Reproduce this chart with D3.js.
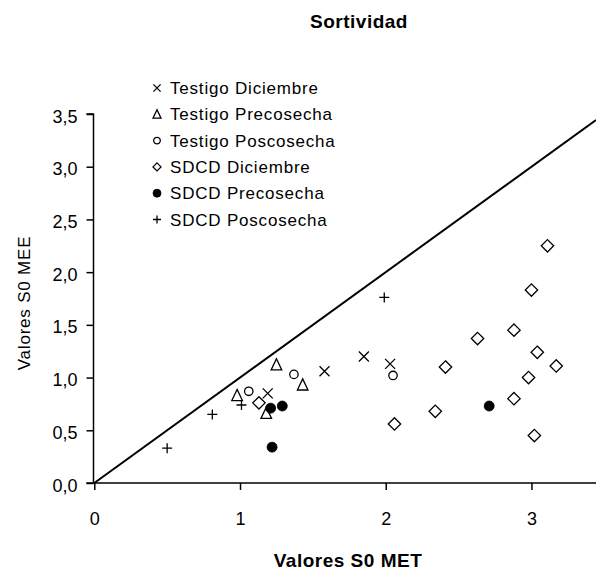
<!DOCTYPE html>
<html>
<head>
<meta charset="utf-8">
<script src="https://cdn.jsdelivr.net/npm/d3@7"></script>
<style>
  html, body { margin: 0; padding: 0; background: #fff; }
  svg { display: block; }
  text { font-family: "Liberation Sans", Arial, sans-serif; fill: #000; }
</style>
</head>
<body>
<svg id="chart" width="596" height="572"></svg>
<script>
// ---- Data ----
const chartTitle = "Sortividad";
const xTitle = "Valores S0 MET";
const yTitle = "Valores S0 MEE";
const seriesNames = ["Testigo Diciembre", "Testigo Precosecha", "Testigo Poscosecha",
                     "SDCD Diciembre", "SDCD Precosecha", "SDCD Poscosecha"];
const xTicks = [0, 1, 2, 3];
const yTicks = [0, 0.5, 1.0, 1.5, 2.0, 2.5, 3.0, 3.5];

const testigoDiciembre = [[1.19, 0.85], [1.58, 1.06], [1.85, 1.20], [2.03, 1.13]];
const testigoPrecosecha = [[0.98, 0.83], [1.18, 0.66], [1.25, 1.12], [1.43, 0.93]];
const testigoPoscosecha = [[1.06, 0.87], [1.37, 1.03], [2.05, 1.02]];
const sdcdDiciembre = [[1.13, 0.76], [2.06, 0.56], [2.34, 0.68], [2.41, 1.10], [2.63, 1.37],
                       [2.88, 1.45], [2.88, 0.80], [2.98, 1.00], [3.00, 1.83], [3.02, 0.45],
                       [3.04, 1.24], [3.11, 2.25], [3.17, 1.11]];
const sdcdPrecosecha = [[1.21, 0.71], [1.29, 0.73], [1.22, 0.34], [2.71, 0.73]];
const sdcdPoscosecha = [[0.50, 0.33], [0.81, 0.65], [1.01, 0.74], [1.99, 1.76]];
const identityLine = [[0, 0], [3.443, 3.443]];

const seriesData = [testigoDiciembre, testigoPrecosecha, testigoPoscosecha,
                    sdcdDiciembre, sdcdPrecosecha, sdcdPoscosecha];
const seriesShapes = ["times", "triangle", "circle", "diamond", "dot", "plus"];

// ---- Layout ----
const svg = d3.select("#chart");
const x = d3.scaleLinear().domain([0, 3.443]).range([94.3, 596]);
const y = d3.scaleLinear().domain([0, 3.5]).range([483, 114]);

function shapePath(shape, s) {
  switch (shape) {
    case "times": return `M${-s},${-s}L${s},${s}M${-s},${s}L${s},${-s}`;
    case "plus": return `M${-s},0L${s},0M0,${-s}L0,${s}`;
    case "triangle": return `M0,${-s*1.15}L${s},${s*0.95}L${-s},${s*0.95}Z`;
    case "diamond": return `M0,${-s}L${s},0L0,${s}L${-s},0Z`;
    case "circle":
    case "dot": return d3.arc()({innerRadius: 0, outerRadius: s, startAngle: 0, endAngle: 2*Math.PI});
  }
}
const dataSize = {times: 5, plus: 5, triangle: 5.3, diamond: 6.2, circle: 4.2, dot: 5};
const legendSize = {times: 3.6, plus: 4, triangle: 4, diamond: 4, circle: 3.3, dot: 4};

function styleShape(sel, shape) {
  if (shape === "dot") sel.attr("fill", "#000").attr("stroke", "#000").attr("stroke-width", 0.8);
  else sel.attr("fill", shape === "times" || shape === "plus" ? "none" : "#fff")
          .attr("stroke", "#000").attr("stroke-width", 1.3);
}

// ---- Title ----
svg.append("text").attr("x", 359).attr("y", 28).attr("text-anchor", "middle")
  .style("font-size", "19px").style("font-weight", "bold").style("letter-spacing", "0.5px").text(chartTitle);

// ---- Axes ----
const yAxis = d3.axisLeft(y).tickValues(yTicks).tickSize(7).tickPadding(9)
  .tickFormat(d => d3.format(".1f")(d).replace(".", ","));
const gy = svg.append("g").attr("transform", `translate(${x(0) - 0.8},0)`).call(yAxis);
gy.select(".domain").attr("d", `M-7,${y(3.5)}H0V${y(0)}`).attr("stroke", "#000").attr("stroke-width", 1.5);
gy.selectAll(".tick line").attr("stroke", "#000").attr("stroke-width", 1.5);
gy.selectAll(".tick text").style("font-size", "18px").style("font-family", "Liberation Sans, Arial, sans-serif")
  .attr("dy", "0.45em");

const xAxis = d3.axisBottom(x).tickValues(xTicks).tickSize(7).tickPadding(22)
  .tickFormat(d3.format("d"));
const gx = svg.append("g").attr("transform", `translate(0,${y(0)})`).call(xAxis);
gx.select(".domain").attr("d", `M${x(0) - 8},0H596`).attr("stroke", "#000").attr("stroke-width", 1.5);
gx.selectAll(".tick line").attr("stroke", "#000").attr("stroke-width", 1.5);
gx.selectAll(".tick text").style("font-size", "18px").style("font-family", "Liberation Sans, Arial, sans-serif");

// Axis titles
svg.append("text").attr("x", 348).attr("y", 567).attr("text-anchor", "middle")
  .style("font-size", "19px").style("font-weight", "bold").style("letter-spacing", "0.5px").text(xTitle);
svg.append("text").attr("transform", "translate(30,303) rotate(-90)").attr("text-anchor", "middle")
  .style("font-size", "17px").style("letter-spacing", "0.8px").text(yTitle);

// ---- Identity line ----
svg.append("path").datum(identityLine)
  .attr("d", d3.line().x(d => x(d[0])).y(d => y(d[1])))
  .attr("stroke", "#000").attr("stroke-width", 2).attr("fill", "none");

// ---- Points ----
seriesData.forEach((data, i) => {
  const shape = seriesShapes[i];
  const sel = svg.append("g").selectAll("path").data(data).join("path")
    .attr("transform", d => `translate(${x(d[0])},${y(d[1])})`)
    .attr("d", shapePath(shape, dataSize[shape]));
  styleShape(sel, shape);
});

// ---- Legend ----
const legend = svg.append("g");
seriesNames.forEach((name, i) => {
  const shape = seriesShapes[i];
  const cy = 88 + i * 26.3;
  const p = legend.append("path").attr("transform", `translate(157,${cy})`)
    .attr("d", shapePath(shape, legendSize[shape]));
  styleShape(p, shape);
  legend.append("text").attr("x", 170).attr("y", cy).attr("dy", "0.36em")
    .style("font-size", "17px").style("letter-spacing", "0.8px").text(name);
});
</script>
</body>
</html>
